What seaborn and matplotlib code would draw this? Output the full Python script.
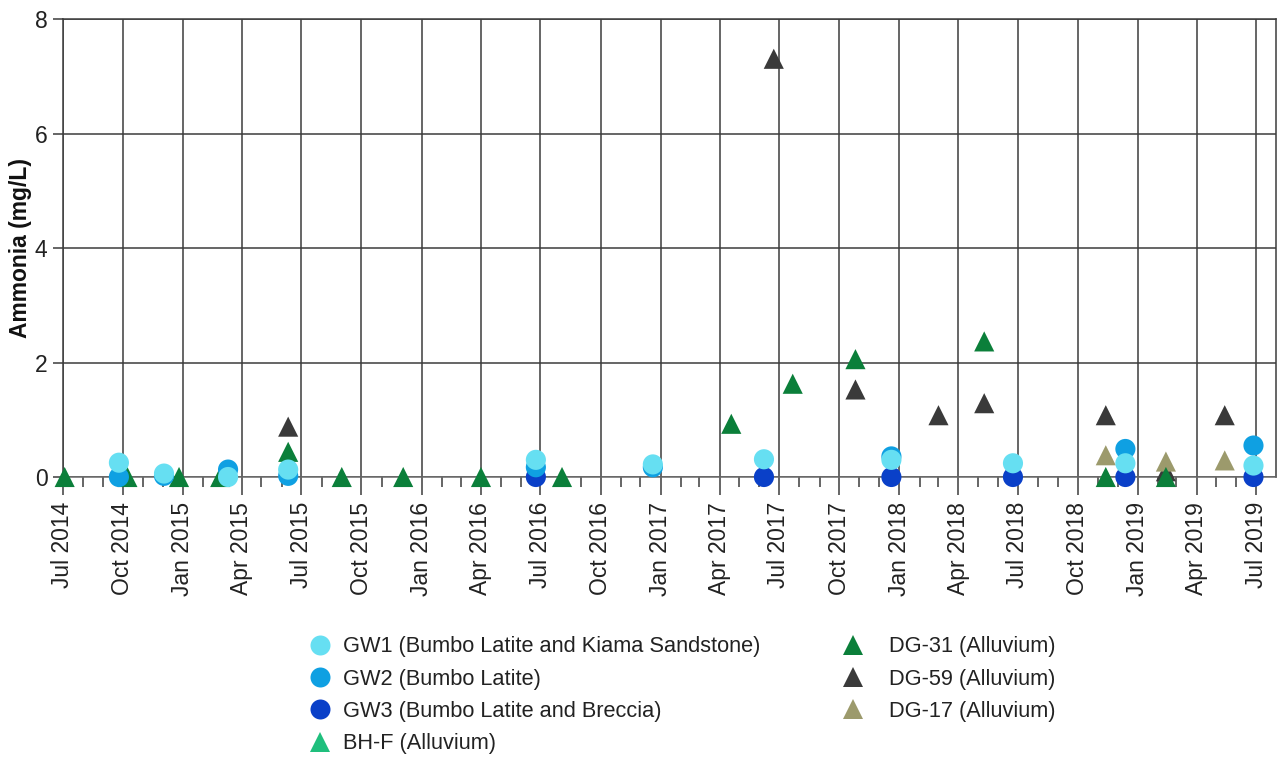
import matplotlib
matplotlib.use("Agg")
import matplotlib.pyplot as plt
import matplotlib.dates as mdates
from matplotlib.lines import Line2D
import pandas as pd
import seaborn as sns

# Ammonia monitoring results (mg/L) per bore, sampled over 2014-2019
gw1_dates = ["2014-09-25", "2014-12-03", "2015-03-11", "2015-06-11", "2016-06-24",
             "2016-12-20", "2017-06-08", "2017-12-20", "2018-06-24", "2018-12-13", "2019-06-27"]
gw1_vals = [0.25, 0.06, 0.00, 0.13, 0.30, 0.22, 0.31, 0.30, 0.24, 0.24, 0.20]

gw2_dates = ["2014-09-25", "2014-12-03", "2015-03-11", "2015-06-11", "2016-06-24",
             "2016-12-20", "2017-12-20", "2018-12-13", "2019-06-27"]
gw2_vals = [0.00, 0.02, 0.13, 0.02, 0.17, 0.17, 0.36, 0.49, 0.55]

gw3_dates = ["2016-06-24", "2017-06-08", "2017-12-20", "2018-06-24", "2018-12-13", "2019-06-27"]
gw3_vals = [0.00, 0.00, 0.00, 0.00, 0.00, 0.00]

bhf_dates = []
bhf_vals = []

dg31_dates = ["2014-07-04", "2014-10-08", "2014-12-26", "2015-02-27", "2015-06-11",
              "2015-09-01", "2015-12-04", "2016-04-01", "2016-08-03", "2017-04-19",
              "2017-07-22", "2017-10-26", "2018-05-11", "2018-11-13", "2019-02-13"]
dg31_vals = [0, 0, 0, 0, 0.44, 0, 0, 0, 0, 0.93, 1.63, 2.06, 2.37, 0, 0]

dg59_dates = ["2015-06-11", "2017-06-23", "2017-10-26", "2018-03-02", "2018-05-11",
              "2018-11-13", "2019-02-13", "2019-05-14"]
dg59_vals = [0.88, 7.31, 1.53, 1.08, 1.29, 1.08, 0.10, 1.08]

dg17_dates = ["2018-11-13", "2019-02-13", "2019-05-14"]
dg17_vals = [0.38, 0.27, 0.29]

series_names = ["GW1 (Bumbo Latite and Kiama Sandstone)", "GW2 (Bumbo Latite)",
                "GW3 (Bumbo Latite and Breccia)", "BH-F (Alluvium)",
                "DG-31 (Alluvium)", "DG-59 (Alluvium)", "DG-17 (Alluvium)"]
series_colors = ["#66dff2", "#0fa0e2", "#0a40c8", "#1fbf7d", "#0b7f3a", "#3a3a3a", "#9c9a6c"]
series_markers = ["o", "o", "o", "^", "^", "^", "^"]
series_data = [(gw1_dates, gw1_vals), (gw2_dates, gw2_vals), (gw3_dates, gw3_vals),
               (bhf_dates, bhf_vals), (dg31_dates, dg31_vals), (dg59_dates, dg59_vals),
               (dg17_dates, dg17_vals)]
draw_order = [5, 6, 4, 3, 2, 1, 0]

y_ticks = [0, 2, 4, 6, 8]

sns.set_style("white")
plt.rcParams["font.family"] = ["Liberation Sans", "DejaVu Sans"]

grid_col = "#3c3c3c"
fig = plt.figure(figsize=(12.79, 7.58), dpi=100)
ax = fig.add_axes([62.7 / 1279, 1 - 477 / 758, (1275.7 - 62.7) / 1279, (477 - 19.3) / 758])

frames = []
for i in draw_order:
    d, v = series_data[i]
    frames.append(pd.DataFrame({"date": pd.to_datetime(pd.Series(d, dtype="object")),
                                "value": pd.Series(v, dtype="float"),
                                "site": series_names[i]}))
df = pd.concat(frames, ignore_index=True)

sns.scatterplot(data=df, x="date", y="value", hue="site", style="site",
                hue_order=series_names, style_order=series_names,
                palette=dict(zip(series_names, series_colors)),
                markers=dict(zip(series_names, series_markers)),
                s=210, linewidth=0, alpha=1, clip_on=False, zorder=5,
                legend=False, ax=ax)

ax.set_xlim(pd.Timestamp("2014-07-01"), pd.Timestamp("2019-07-31"))
ax.set_ylim(0, 8)
ax.set_yticks(y_ticks)
ax.set_yticklabels([str(t) for t in y_ticks])
ax.xaxis.set_major_locator(mdates.MonthLocator(bymonth=[1, 4, 7, 10]))
ax.xaxis.set_minor_locator(mdates.MonthLocator())
ax.xaxis.set_major_formatter(mdates.DateFormatter("%b %Y"))

ax.grid(True, which="major", color=grid_col, linewidth=1.1)
ax.set_axisbelow(True)
for sp in ax.spines.values():
    sp.set_visible(True)
    sp.set_color(grid_col)
    sp.set_linewidth(1.1)
ax.spines["bottom"].set_color("#6a6a6a")

ax.tick_params(axis="x", which="major", direction="out", length=13, width=1.1,
               color=grid_col, pad=5, labelsize=16.5, labelcolor="#222222",
               labelrotation=90, bottom=True)
ax.tick_params(axis="x", which="minor", direction="out", length=7, width=1.1,
               color=grid_col, bottom=True)
ax.tick_params(axis="y", which="major", direction="out", length=7, width=1.1,
               color=grid_col, pad=4, labelsize=16.5, labelcolor="#222222", left=True)

ax.set_xlabel("")
ax.set_ylabel("Ammonia (mg/L)", fontsize=16.5, fontweight="bold", color="#111111", labelpad=2)


def handle(i):
    return Line2D([], [], linestyle="", marker=series_markers[i], markersize=14.4,
                  markeredgewidth=0, color=series_colors[i])


leg_kw = dict(frameon=False, borderpad=0, fontsize=15.7, handlelength=1.0,
              labelspacing=0.52, labelcolor="#222222", loc="upper left")
leg1 = fig.legend([handle(i) for i in range(4)], series_names[:4],
                  bbox_to_anchor=(297.8 / 1279, 1 - 625.5 / 758), handletextpad=0.57, **leg_kw)
leg2 = fig.legend([handle(i) for i in range(4, 7)], series_names[4:],
                  bbox_to_anchor=(831 / 1279, 1 - 625.5 / 758), handletextpad=1.15, **leg_kw)

fig.savefig("out.png", dpi=100)
